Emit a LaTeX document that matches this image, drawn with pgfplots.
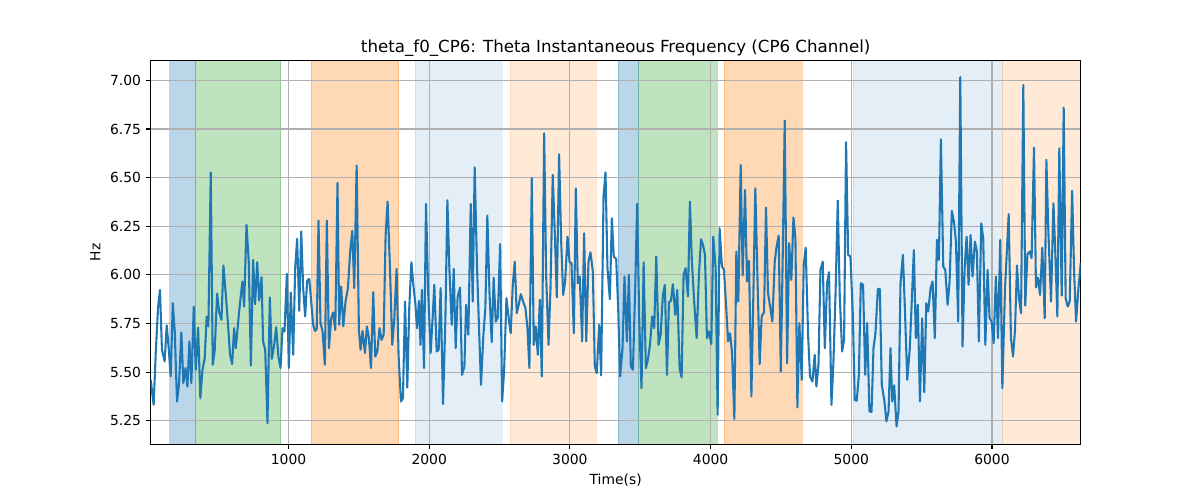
\documentclass[border=0pt]{standalone}
\usepackage{pgfplots}
\pgfplotsset{compat=1.18}
\usepackage{pgfplotstable}
\usepackage{fontspec}
\setmainfont{DejaVu Sans}
\definecolor{tabblue}{HTML}{1F77B4}
\definecolor{taborange}{HTML}{FF7F0E}
\definecolor{tabgreen}{HTML}{2CA02C}
\definecolor{gridgray}{HTML}{B0B0B0}
\pgfplotstableread{
x y
20 5.461
41 5.332
56 5.600
72 5.829
86 5.923
100 5.615
119 5.555
134 5.740
148 5.623
162 5.478
177 5.854
191 5.709
207 5.349
221 5.435
238 5.704
252 5.443
267 5.521
281 5.426
295 5.658
309 5.443
326 5.837
340 5.512
357 5.729
373 5.366
388 5.512
404 5.572
418 5.786
430 5.735
447 6.527
461 5.538
475 5.610
492 5.904
506 5.812
523 5.769
537 6.048
554 5.897
570 5.743
584 5.589
599 5.541
613 5.726
625 5.623
641 5.752
656 5.863
672 5.966
684 5.837
701 6.257
717 6.068
732 5.534
748 6.077
762 5.849
777 6.065
791 5.868
808 5.988
819 5.658
834 5.615
850 5.238
867 5.884
881 5.568
898 5.640
912 5.731
928 5.580
943 5.521
957 5.726
971 5.709
988 6.005
1002 5.521
1016 5.909
1033 5.589
1047 6.034
1061 6.185
1076 5.815
1090 6.223
1104 5.932
1118 5.786
1132 5.969
1147 5.979
1161 5.863
1175 5.743
1187 5.712
1200 5.720
1213 6.279
1227 5.752
1242 5.709
1258 5.538
1272 6.279
1287 5.623
1303 5.777
1317 5.807
1332 5.717
1348 6.473
1360 5.743
1374 5.940
1389 5.735
1405 5.863
1422 5.932
1438 6.120
1453 6.226
1467 5.932
1484 6.562
1500 5.717
1512 5.615
1526 5.712
1543 5.598
1557 5.735
1571 5.675
1586 5.521
1602 5.911
1616 5.580
1631 5.606
1647 5.726
1661 5.666
1676 5.692
1690 6.205
1704 6.377
1721 6.034
1737 5.640
1752 5.777
1768 6.031
1782 5.589
1799 5.349
1813 5.366
1828 5.863
1844 5.421
1858 5.829
1873 6.065
1887 5.949
1901 5.854
1913 5.726
1927 5.866
1938 5.640
1948 5.923
1963 5.521
1977 6.365
1993 5.897
2010 5.598
2024 5.777
2036 5.949
2053 5.606
2067 5.615
2081 5.932
2098 5.336
2115 5.777
2129 6.384
2143 6.034
2160 5.743
2174 6.031
2188 5.623
2202 5.889
2219 5.935
2233 5.486
2250 5.529
2262 5.846
2278 5.692
2295 6.365
2309 5.863
2323 6.553
2340 6.034
2354 5.726
2368 5.435
2385 5.692
2399 5.829
2413 6.305
2428 5.914
2444 5.654
2458 5.986
2473 5.760
2487 5.781
2504 6.159
2518 5.349
2532 5.503
2549 5.880
2565 5.777
2579 5.700
2594 5.949
2608 6.068
2622 5.803
2636 5.846
2651 5.901
2667 5.863
2684 5.829
2698 5.726
2712 5.521
2729 6.497
2743 5.640
2757 5.735
2772 5.589
2786 5.872
2800 5.478
2817 6.728
2831 6.000
2848 5.640
2862 5.932
2878 6.514
2893 6.205
2907 5.884
2923 6.620
2938 6.171
2952 5.897
2966 5.966
2983 6.197
2997 6.068
3011 6.060
3028 5.700
3042 6.445
3056 5.957
3070 5.991
3087 5.658
3101 6.214
3116 5.658
3132 6.068
3146 6.116
3163 6.017
3177 5.529
3191 5.495
3208 5.743
3222 5.483
3239 6.402
3253 6.527
3267 6.034
3284 5.875
3298 6.291
3312 6.094
3329 6.082
3343 5.829
3357 5.478
3374 5.623
3388 5.991
3405 5.658
3419 6.000
3433 5.529
3448 5.512
3464 5.932
3478 6.365
3493 5.760
3509 5.418
3524 6.065
3540 5.521
3554 5.563
3569 5.640
3585 5.786
3599 5.726
3614 6.094
3630 5.640
3645 5.692
3661 5.897
3675 5.949
3690 5.486
3704 5.860
3718 5.866
3732 5.952
3749 5.795
3763 5.923
3780 5.517
3794 5.473
3808 6.000
3822 6.034
3839 5.889
3853 6.377
3867 6.068
3884 5.854
3901 5.675
3917 6.000
3932 6.183
3946 6.154
3960 6.103
3974 5.675
3988 5.709
4005 5.644
4019 6.197
4036 6.034
4050 5.281
4064 6.240
4081 6.043
4095 6.026
4110 5.846
4124 5.658
4138 5.700
4152 5.606
4169 5.260
4183 6.120
4197 5.863
4214 6.565
4228 5.997
4245 6.437
4259 5.966
4273 6.072
4290 5.375
4304 5.897
4318 6.445
4335 5.932
4349 5.541
4363 5.786
4380 5.808
4394 6.346
4408 5.906
4425 5.829
4439 5.760
4456 6.068
4468 6.140
4484 6.202
4499 5.503
4513 6.103
4527 6.793
4544 5.546
4558 6.163
4574 5.974
4589 6.295
4603 6.188
4617 5.318
4631 5.752
4648 5.461
4662 6.051
4676 6.140
4693 5.692
4707 5.478
4724 5.452
4740 5.589
4752 5.426
4767 5.538
4781 6.026
4797 6.068
4812 5.623
4828 5.957
4842 6.014
4859 5.332
4873 5.546
4888 5.897
4904 6.382
4918 5.897
4935 5.606
4949 5.666
4963 6.682
4978 6.103
4994 6.094
5011 5.795
5025 5.358
5039 5.353
5054 5.486
5068 5.957
5084 5.949
5099 5.486
5113 5.752
5129 5.298
5144 5.295
5158 5.623
5172 5.700
5189 5.928
5203 5.928
5217 5.435
5236 5.349
5250 5.247
5265 5.298
5279 5.623
5291 5.349
5305 5.432
5322 5.221
5336 5.298
5350 5.957
5367 6.103
5381 5.829
5398 5.461
5416 5.623
5428 5.829
5445 6.128
5459 5.675
5473 5.846
5488 5.349
5504 5.777
5519 5.397
5533 5.854
5547 5.812
5564 5.932
5578 5.966
5594 5.675
5609 6.180
5623 6.077
5637 6.697
5654 6.043
5668 6.026
5685 5.846
5699 5.966
5715 6.329
5730 6.274
5744 6.171
5760 5.760
5775 7.017
5791 5.632
5806 6.034
5820 6.197
5834 5.949
5848 6.205
5862 5.991
5879 6.171
5893 6.120
5907 5.658
5924 6.265
5938 6.188
5953 5.640
5969 6.026
5983 5.777
5998 5.760
6012 5.649
6028 5.991
6043 5.675
6059 6.180
6074 5.418
6093 5.932
6119 6.312
6135 5.675
6150 5.580
6164 5.717
6178 6.048
6192 5.880
6207 5.803
6223 6.976
6237 5.842
6252 6.106
6268 6.120
6282 6.086
6299 6.654
6313 5.935
6327 5.986
6342 5.897
6358 6.140
6375 5.777
6387 6.591
6401 6.223
6420 5.863
6437 6.368
6451 6.103
6465 5.786
6479 6.651
6496 5.894
6510 6.860
6524 5.880
6539 5.837
6553 5.863
6570 6.432
6584 6.017
6598 5.760
6615 5.932
6631 6.060
}\datatable
\begin{document}
\begin{tikzpicture}
\begin{axis}[
  set layers,
  at={(0,0)}, anchor=south west,
  scale only axis, width=669.6pt, height=276.2pt,
  xmin=20, xmax=6631, ymin=5.129, ymax=7.101,
  xtick={1000,2000,3000,4000,5000,6000},
  ytick={5.25,5.5,5.75,6.0,6.25,6.5,6.75,7.0},
  yticklabel style={/pgf/number format/.cd, fixed, fixed zerofill, precision=2},
  xticklabel style={/pgf/number format/.cd, set thousands separator={}},
  /pgf/number format/assume math mode=true,
  tick label style={font=\fontsize{10}{12}\selectfont},
  tick align=outside, major tick length=3.5pt,
  tick style={black, line width=0.8pt},
  xtick pos=bottom, ytick pos=left,
  axis line style={black, line width=0.8pt},
  grid=major, major grid style={gridgray, line width=0.8pt},
  title={theta\_f0\_CP6: Theta Instantaneous Frequency (CP6 Channel)},
  title style={font=\fontsize{12}{14.4}\selectfont, at={(0.5,1)}, anchor=base, yshift=0pt},
  xlabel={Time(s)}, ylabel={Hz},
  label style={font=\fontsize{10}{12}\selectfont},
]
\addplot[on layer=axis background, fill=tabblue, fill opacity=0.3, draw=tabblue, draw opacity=0.3] coordinates {(155,5.129) (155,7.101) (338,7.101) (338,5.129)} -- cycle;
\addplot[on layer=axis background, fill=tabgreen, fill opacity=0.3, draw=tabgreen, draw opacity=0.3] coordinates {(338,5.129) (338,7.101) (943,7.101) (943,5.129)} -- cycle;
\addplot[on layer=axis background, fill=taborange, fill opacity=0.3, draw=taborange, draw opacity=0.3] coordinates {(1159,5.129) (1159,7.101) (1783,7.101) (1783,5.129)} -- cycle;
\addplot[on layer=axis background, fill=tabblue, fill opacity=0.12, draw=tabblue, draw opacity=0.12] coordinates {(1899,5.129) (1899,7.101) (2518,7.101) (2518,5.129)} -- cycle;
\addplot[on layer=axis background, fill=taborange, fill opacity=0.16, draw=taborange, draw opacity=0.16] coordinates {(2575,5.129) (2575,7.101) (3185,7.101) (3185,5.129)} -- cycle;
\addplot[on layer=axis background, fill=tabblue, fill opacity=0.3, draw=tabblue, draw opacity=0.3] coordinates {(3343,5.129) (3343,7.101) (3488,7.101) (3488,5.129)} -- cycle;
\addplot[on layer=axis background, fill=tabgreen, fill opacity=0.3, draw=tabgreen, draw opacity=0.3] coordinates {(3488,5.129) (3488,7.101) (4046,7.101) (4046,5.129)} -- cycle;
\addplot[on layer=axis background, fill=taborange, fill opacity=0.3, draw=taborange, draw opacity=0.3] coordinates {(4098,5.129) (4098,7.101) (4651,7.101) (4651,5.129)} -- cycle;
\addplot[on layer=axis background, fill=tabblue, fill opacity=0.12, draw=tabblue, draw opacity=0.12] coordinates {(5011,5.129) (5011,7.101) (6074,7.101) (6074,5.129)} -- cycle;
\addplot[on layer=axis background, fill=taborange, fill opacity=0.16, draw=taborange, draw opacity=0.16] coordinates {(6074,5.129) (6074,7.101) (6631,7.101) (6631,5.129)} -- cycle;
\addplot[tabblue, line width=1.5pt, line join=round, mark=none] table[x=x, y=y] {\datatable};
\end{axis}
\path[use as bounding box] (-108.5pt,-40.1pt) rectangle ++(864pt,360pt);
\end{tikzpicture}
\end{document}
